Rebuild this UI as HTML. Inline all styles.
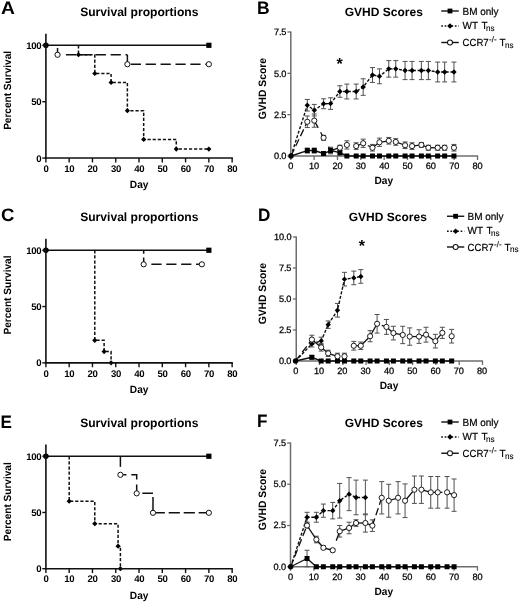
<!DOCTYPE html>
<html lang="en">
<head>
<meta charset="utf-8">
<title>Survival proportions and GVHD Scores</title>
<style>
html,body{margin:0;padding:0;background:#fff;}
body{width:520px;height:603px;overflow:hidden;font-family:"Liberation Sans",sans-serif;}
svg{display:block;}
svg text{font-family:"Liberation Sans",sans-serif;}
</style>
</head>
<body>
<svg role="img" aria-label="Survival proportions and GVHD scores, panels A to F" width="520" height="603" viewBox="0 0 520 603" text-rendering="geometricPrecision" font-family='"Liberation Sans", sans-serif'>
<rect width="520" height="603" fill="#fff"/>
<g>
<text transform="translate(0.9 14.3) scale(1.07 1)" font-size="18" font-weight="bold">A</text>
<text x="139.3" y="16.3" font-size="12.1" font-weight="bold" text-anchor="middle" fill="#000">Survival proportions</text>
<text transform="translate(10.7 90.4) rotate(-90) scale(0.965 1)" font-size="10.45" font-weight="bold" text-anchor="middle">Percent Survival</text>
<text transform="translate(139.2 187.8) scale(0.96 1)" font-size="10.6" font-weight="bold" text-anchor="middle">Day</text>
<line x1="45.9" y1="45.3" x2="208.86" y2="45.3" stroke="#111" stroke-width="1.6" stroke-linecap="butt"/>
<path d="M57.54 47.9V54.77" fill="none" stroke="#111" stroke-width="1.5" stroke-linejoin="miter"/>
<path d="M65.92 54.77H127.38" fill="none" stroke="#111" stroke-width="1.5" stroke-dasharray="10.2 4.7" stroke-linejoin="miter"/>
<path d="M127.38 54.77V64.24" fill="none" stroke="#111" stroke-width="1.5" stroke-linejoin="miter"/>
<path d="M130.78 64.24H208.86" fill="none" stroke="#111" stroke-width="1.5" stroke-dasharray="10.2 4.7" stroke-linejoin="miter"/>
<path d="M78.49 45.3V54.77H94.79V73.49H111.08V82.51H127.38V110.7H143.68V139.45H176.27V149.03H208.86" fill="none" stroke="#111" stroke-width="1.5" stroke-dasharray="3.2 1.9" stroke-linejoin="miter"/>
<path d="M78.49 52.17L81.09 54.77L78.49 57.37L75.89 54.77Z" fill="#000"/>
<path d="M94.79 70.89L97.39 73.49L94.79 76.09L92.19 73.49Z" fill="#000"/>
<path d="M111.08 79.91L113.68 82.51L111.08 85.11L108.48 82.51Z" fill="#000"/>
<path d="M127.38 108.1L129.98 110.7L127.38 113.3L124.78 110.7Z" fill="#000"/>
<path d="M143.68 136.85L146.28 139.45L143.68 142.05L141.08 139.45Z" fill="#000"/>
<path d="M176.27 146.43L178.87 149.03L176.27 151.63L173.67 149.03Z" fill="#000"/>
<path d="M208.86 146.43L211.46 149.03L208.86 151.63L206.26 149.03Z" fill="#000"/>
<circle cx="57.54" cy="54.77" r="2.6" fill="#fff" stroke="#111" stroke-width="1.0"/>
<circle cx="127.38" cy="64.24" r="2.6" fill="#fff" stroke="#111" stroke-width="1.0"/>
<circle cx="208.86" cy="64.24" r="2.6" fill="#fff" stroke="#111" stroke-width="1.0"/>
<circle cx="45.9" cy="45.3" r="2.8" fill="#000"/>
<rect x="206.26" y="42.7" width="5.2" height="5.2" fill="#000"/>
<line x1="45.9" y1="33.75" x2="45.9" y2="158.85" stroke="#111" stroke-width="1.6" stroke-linecap="butt"/>
<line x1="45.1" y1="158.05" x2="232.84" y2="158.05" stroke="#111" stroke-width="1.6" stroke-linecap="butt"/>
<line x1="42.3" y1="158.05" x2="45.9" y2="158.05" stroke="#111" stroke-width="1.4" stroke-linecap="butt"/>
<text x="41.2" y="161.5" font-size="9.6" font-weight="bold" text-anchor="end" fill="#000" letter-spacing="-0.35">0</text>
<line x1="42.3" y1="101.68" x2="45.9" y2="101.68" stroke="#111" stroke-width="1.4" stroke-linecap="butt"/>
<text x="41.2" y="105.13" font-size="9.6" font-weight="bold" text-anchor="end" fill="#000" letter-spacing="-0.35">50</text>
<line x1="42.3" y1="45.3" x2="45.9" y2="45.3" stroke="#111" stroke-width="1.4" stroke-linecap="butt"/>
<text x="41.2" y="48.75" font-size="9.6" font-weight="bold" text-anchor="end" fill="#000" letter-spacing="-0.35">100</text>
<line x1="45.9" y1="158.05" x2="45.9" y2="162.45" stroke="#111" stroke-width="1.4" stroke-linecap="butt"/>
<text x="46.05" y="171.75" font-size="9.6" font-weight="bold" text-anchor="middle" fill="#000" letter-spacing="-0.35">0</text>
<line x1="69.18" y1="158.05" x2="69.18" y2="162.45" stroke="#111" stroke-width="1.4" stroke-linecap="butt"/>
<text x="69.33" y="171.75" font-size="9.6" font-weight="bold" text-anchor="middle" fill="#000" letter-spacing="-0.35">10</text>
<line x1="92.46" y1="158.05" x2="92.46" y2="162.45" stroke="#111" stroke-width="1.4" stroke-linecap="butt"/>
<text x="92.61" y="171.75" font-size="9.6" font-weight="bold" text-anchor="middle" fill="#000" letter-spacing="-0.35">20</text>
<line x1="115.74" y1="158.05" x2="115.74" y2="162.45" stroke="#111" stroke-width="1.4" stroke-linecap="butt"/>
<text x="115.89" y="171.75" font-size="9.6" font-weight="bold" text-anchor="middle" fill="#000" letter-spacing="-0.35">30</text>
<line x1="139.02" y1="158.05" x2="139.02" y2="162.45" stroke="#111" stroke-width="1.4" stroke-linecap="butt"/>
<text x="139.17" y="171.75" font-size="9.6" font-weight="bold" text-anchor="middle" fill="#000" letter-spacing="-0.35">40</text>
<line x1="162.3" y1="158.05" x2="162.3" y2="162.45" stroke="#111" stroke-width="1.4" stroke-linecap="butt"/>
<text x="162.45" y="171.75" font-size="9.6" font-weight="bold" text-anchor="middle" fill="#000" letter-spacing="-0.35">50</text>
<line x1="185.58" y1="158.05" x2="185.58" y2="162.45" stroke="#111" stroke-width="1.4" stroke-linecap="butt"/>
<text x="185.73" y="171.75" font-size="9.6" font-weight="bold" text-anchor="middle" fill="#000" letter-spacing="-0.35">60</text>
<line x1="208.86" y1="158.05" x2="208.86" y2="162.45" stroke="#111" stroke-width="1.4" stroke-linecap="butt"/>
<text x="209.01" y="171.75" font-size="9.6" font-weight="bold" text-anchor="middle" fill="#000" letter-spacing="-0.35">70</text>
<line x1="232.14" y1="158.05" x2="232.14" y2="162.45" stroke="#111" stroke-width="1.4" stroke-linecap="butt"/>
<text x="232.29" y="171.75" font-size="9.6" font-weight="bold" text-anchor="middle" fill="#000" letter-spacing="-0.35">80</text>
</g>
<g>
<text transform="translate(0.9 220.6) scale(1.03 1)" font-size="18" font-weight="bold">C</text>
<text x="139.3" y="221.4" font-size="12.1" font-weight="bold" text-anchor="middle" fill="#000">Survival proportions</text>
<text transform="translate(10.7 295) rotate(-90) scale(0.965 1)" font-size="10.45" font-weight="bold" text-anchor="middle">Percent Survival</text>
<text transform="translate(139.2 393) scale(0.96 1)" font-size="10.6" font-weight="bold" text-anchor="middle">Day</text>
<line x1="45.9" y1="250.25" x2="208.86" y2="250.25" stroke="#111" stroke-width="1.6" stroke-linecap="butt"/>
<path d="M143.68 250.25v3.6M143.68 257.52V264.32" fill="none" stroke="#111" stroke-width="1.5" stroke-linejoin="miter"/>
<path d="M151.36 264.32H201.88" fill="none" stroke="#111" stroke-width="1.5" stroke-dasharray="10.2 4.7" stroke-linejoin="miter"/>
<path d="M94.79 250.25V340.33H104.1V351.59H111.08V362.85" fill="none" stroke="#111" stroke-width="1.5" stroke-dasharray="3.2 1.9" stroke-linejoin="miter"/>
<path d="M94.79 337.73L97.39 340.33L94.79 342.93L92.19 340.33Z" fill="#000"/>
<path d="M104.1 348.99L106.7 351.59L104.1 354.19L101.5 351.59Z" fill="#000"/>
<path d="M111.08 360.25L113.68 362.85L111.08 365.45L108.48 362.85Z" fill="#000"/>
<circle cx="143.68" cy="264.32" r="2.6" fill="#fff" stroke="#111" stroke-width="1.0"/>
<circle cx="201.88" cy="264.32" r="2.6" fill="#fff" stroke="#111" stroke-width="1.0"/>
<circle cx="45.9" cy="250.25" r="2.8" fill="#000"/>
<rect x="206.26" y="247.65" width="5.2" height="5.2" fill="#000"/>
<line x1="45.9" y1="238.75" x2="45.9" y2="363.65" stroke="#111" stroke-width="1.6" stroke-linecap="butt"/>
<line x1="45.1" y1="362.85" x2="232.84" y2="362.85" stroke="#111" stroke-width="1.6" stroke-linecap="butt"/>
<line x1="42.3" y1="362.85" x2="45.9" y2="362.85" stroke="#111" stroke-width="1.4" stroke-linecap="butt"/>
<text x="41.2" y="366.3" font-size="9.6" font-weight="bold" text-anchor="end" fill="#000" letter-spacing="-0.35">0</text>
<line x1="42.3" y1="306.55" x2="45.9" y2="306.55" stroke="#111" stroke-width="1.4" stroke-linecap="butt"/>
<text x="41.2" y="310" font-size="9.6" font-weight="bold" text-anchor="end" fill="#000" letter-spacing="-0.35">50</text>
<line x1="42.3" y1="250.25" x2="45.9" y2="250.25" stroke="#111" stroke-width="1.4" stroke-linecap="butt"/>
<text x="41.2" y="253.7" font-size="9.6" font-weight="bold" text-anchor="end" fill="#000" letter-spacing="-0.35">100</text>
<line x1="45.9" y1="362.85" x2="45.9" y2="367.25" stroke="#111" stroke-width="1.4" stroke-linecap="butt"/>
<text x="46.05" y="376.55" font-size="9.6" font-weight="bold" text-anchor="middle" fill="#000" letter-spacing="-0.35">0</text>
<line x1="69.18" y1="362.85" x2="69.18" y2="367.25" stroke="#111" stroke-width="1.4" stroke-linecap="butt"/>
<text x="69.33" y="376.55" font-size="9.6" font-weight="bold" text-anchor="middle" fill="#000" letter-spacing="-0.35">10</text>
<line x1="92.46" y1="362.85" x2="92.46" y2="367.25" stroke="#111" stroke-width="1.4" stroke-linecap="butt"/>
<text x="92.61" y="376.55" font-size="9.6" font-weight="bold" text-anchor="middle" fill="#000" letter-spacing="-0.35">20</text>
<line x1="115.74" y1="362.85" x2="115.74" y2="367.25" stroke="#111" stroke-width="1.4" stroke-linecap="butt"/>
<text x="115.89" y="376.55" font-size="9.6" font-weight="bold" text-anchor="middle" fill="#000" letter-spacing="-0.35">30</text>
<line x1="139.02" y1="362.85" x2="139.02" y2="367.25" stroke="#111" stroke-width="1.4" stroke-linecap="butt"/>
<text x="139.17" y="376.55" font-size="9.6" font-weight="bold" text-anchor="middle" fill="#000" letter-spacing="-0.35">40</text>
<line x1="162.3" y1="362.85" x2="162.3" y2="367.25" stroke="#111" stroke-width="1.4" stroke-linecap="butt"/>
<text x="162.45" y="376.55" font-size="9.6" font-weight="bold" text-anchor="middle" fill="#000" letter-spacing="-0.35">50</text>
<line x1="185.58" y1="362.85" x2="185.58" y2="367.25" stroke="#111" stroke-width="1.4" stroke-linecap="butt"/>
<text x="185.73" y="376.55" font-size="9.6" font-weight="bold" text-anchor="middle" fill="#000" letter-spacing="-0.35">60</text>
<line x1="208.86" y1="362.85" x2="208.86" y2="367.25" stroke="#111" stroke-width="1.4" stroke-linecap="butt"/>
<text x="209.01" y="376.55" font-size="9.6" font-weight="bold" text-anchor="middle" fill="#000" letter-spacing="-0.35">70</text>
<line x1="232.14" y1="362.85" x2="232.14" y2="367.25" stroke="#111" stroke-width="1.4" stroke-linecap="butt"/>
<text x="232.29" y="376.55" font-size="9.6" font-weight="bold" text-anchor="middle" fill="#000" letter-spacing="-0.35">80</text>
</g>
<g>
<text transform="translate(0.6 428) scale(0.95 1)" font-size="18" font-weight="bold">E</text>
<text x="139.3" y="427.1" font-size="12.1" font-weight="bold" text-anchor="middle" fill="#000">Survival proportions</text>
<text transform="translate(10.7 501.7) rotate(-90) scale(0.965 1)" font-size="10.45" font-weight="bold" text-anchor="middle">Percent Survival</text>
<text transform="translate(139.2 599) scale(0.96 1)" font-size="10.6" font-weight="bold" text-anchor="middle">Day</text>
<line x1="45.9" y1="456.25" x2="208.86" y2="456.25" stroke="#111" stroke-width="1.6" stroke-linecap="butt"/>
<path d="M120.4 456.25v10.6" fill="none" stroke="#111" stroke-width="1.5" stroke-linejoin="miter"/>
<path d="M123.2 474.8H126.4M131.29 474.8H136.69V479.6M136.69 484.56V493.36" fill="none" stroke="#111" stroke-width="1.5" stroke-linejoin="miter"/>
<path d="M142.29 493.36H152.99M152.99 496.96V512.81" fill="none" stroke="#111" stroke-width="1.5" stroke-linejoin="miter"/>
<path d="M155.99 512.81H208.86" fill="none" stroke="#111" stroke-width="1.5" stroke-dasharray="8.9 3.8 11.2 3.8 11.2 3.8 11.2" stroke-linejoin="miter"/>
<path d="M69.18 456.25V501.23H94.79V523.72H118.07V546.21H120.4V568.7" fill="none" stroke="#111" stroke-width="1.5" stroke-dasharray="3.2 1.9" stroke-linejoin="miter"/>
<path d="M69.18 498.63L71.78 501.23L69.18 503.83L66.58 501.23Z" fill="#000"/>
<path d="M94.79 521.12L97.39 523.72L94.79 526.32L92.19 523.72Z" fill="#000"/>
<path d="M118.07 543.61L120.67 546.21L118.07 548.81L115.47 546.21Z" fill="#000"/>
<path d="M120.4 566.1L123 568.7L120.4 571.3L117.8 568.7Z" fill="#000"/>
<circle cx="120.4" cy="474.8" r="2.6" fill="#fff" stroke="#111" stroke-width="1.0"/>
<circle cx="136.69" cy="493.36" r="2.6" fill="#fff" stroke="#111" stroke-width="1.0"/>
<circle cx="152.99" cy="512.81" r="2.6" fill="#fff" stroke="#111" stroke-width="1.0"/>
<circle cx="208.86" cy="512.81" r="2.6" fill="#fff" stroke="#111" stroke-width="1.0"/>
<circle cx="45.9" cy="456.25" r="2.8" fill="#000"/>
<rect x="206.26" y="453.65" width="5.2" height="5.2" fill="#000"/>
<line x1="45.9" y1="444.5" x2="45.9" y2="569.5" stroke="#111" stroke-width="1.6" stroke-linecap="butt"/>
<line x1="45.1" y1="568.7" x2="232.84" y2="568.7" stroke="#111" stroke-width="1.6" stroke-linecap="butt"/>
<line x1="42.3" y1="568.7" x2="45.9" y2="568.7" stroke="#111" stroke-width="1.4" stroke-linecap="butt"/>
<text x="41.2" y="572.15" font-size="9.6" font-weight="bold" text-anchor="end" fill="#000" letter-spacing="-0.35">0</text>
<line x1="42.3" y1="512.48" x2="45.9" y2="512.48" stroke="#111" stroke-width="1.4" stroke-linecap="butt"/>
<text x="41.2" y="515.93" font-size="9.6" font-weight="bold" text-anchor="end" fill="#000" letter-spacing="-0.35">50</text>
<line x1="42.3" y1="456.25" x2="45.9" y2="456.25" stroke="#111" stroke-width="1.4" stroke-linecap="butt"/>
<text x="41.2" y="459.7" font-size="9.6" font-weight="bold" text-anchor="end" fill="#000" letter-spacing="-0.35">100</text>
<line x1="45.9" y1="568.7" x2="45.9" y2="573.1" stroke="#111" stroke-width="1.4" stroke-linecap="butt"/>
<text x="46.05" y="582.4" font-size="9.6" font-weight="bold" text-anchor="middle" fill="#000" letter-spacing="-0.35">0</text>
<line x1="69.18" y1="568.7" x2="69.18" y2="573.1" stroke="#111" stroke-width="1.4" stroke-linecap="butt"/>
<text x="69.33" y="582.4" font-size="9.6" font-weight="bold" text-anchor="middle" fill="#000" letter-spacing="-0.35">10</text>
<line x1="92.46" y1="568.7" x2="92.46" y2="573.1" stroke="#111" stroke-width="1.4" stroke-linecap="butt"/>
<text x="92.61" y="582.4" font-size="9.6" font-weight="bold" text-anchor="middle" fill="#000" letter-spacing="-0.35">20</text>
<line x1="115.74" y1="568.7" x2="115.74" y2="573.1" stroke="#111" stroke-width="1.4" stroke-linecap="butt"/>
<text x="115.89" y="582.4" font-size="9.6" font-weight="bold" text-anchor="middle" fill="#000" letter-spacing="-0.35">30</text>
<line x1="139.02" y1="568.7" x2="139.02" y2="573.1" stroke="#111" stroke-width="1.4" stroke-linecap="butt"/>
<text x="139.17" y="582.4" font-size="9.6" font-weight="bold" text-anchor="middle" fill="#000" letter-spacing="-0.35">40</text>
<line x1="162.3" y1="568.7" x2="162.3" y2="573.1" stroke="#111" stroke-width="1.4" stroke-linecap="butt"/>
<text x="162.45" y="582.4" font-size="9.6" font-weight="bold" text-anchor="middle" fill="#000" letter-spacing="-0.35">50</text>
<line x1="185.58" y1="568.7" x2="185.58" y2="573.1" stroke="#111" stroke-width="1.4" stroke-linecap="butt"/>
<text x="185.73" y="582.4" font-size="9.6" font-weight="bold" text-anchor="middle" fill="#000" letter-spacing="-0.35">60</text>
<line x1="208.86" y1="568.7" x2="208.86" y2="573.1" stroke="#111" stroke-width="1.4" stroke-linecap="butt"/>
<text x="209.01" y="582.4" font-size="9.6" font-weight="bold" text-anchor="middle" fill="#000" letter-spacing="-0.35">70</text>
<line x1="232.14" y1="568.7" x2="232.14" y2="573.1" stroke="#111" stroke-width="1.4" stroke-linecap="butt"/>
<text x="232.29" y="582.4" font-size="9.6" font-weight="bold" text-anchor="middle" fill="#000" letter-spacing="-0.35">80</text>
</g>
<g>
<text transform="translate(257.1 14.3) scale(0.97 1)" font-size="18" font-weight="bold">B</text>
<text x="383.8" y="16" font-size="12" font-weight="bold" text-anchor="middle" fill="#000">GVHD Scores</text>
<text transform="translate(265.5 88.7) rotate(-90) scale(0.965 1)" font-size="10.7" font-weight="bold" text-anchor="middle">GVHD Score</text>
<text transform="translate(383.8 183.9) scale(0.96 1)" font-size="10.6" font-weight="bold" text-anchor="middle">Day</text>
<line x1="441.25" y1="11" x2="458.75" y2="11" stroke="#111" stroke-width="1.4" stroke-linecap="butt"/>
<rect x="447.6" y="8.6" width="4.8" height="4.8" fill="#000"/>
<line x1="441.25" y1="26" x2="458.75" y2="26" stroke="#111" stroke-width="1.5" stroke-dasharray="1.7 1.7" stroke-linecap="butt"/>
<path d="M450 23.2L452.8 26L450 28.8L447.2 26Z" fill="#000"/>
<line x1="441.25" y1="42.5" x2="458.75" y2="42.5" stroke="#111" stroke-width="1.4" stroke-linecap="butt"/>
<circle cx="450" cy="42.5" r="2.5" fill="#fff" stroke="#111" stroke-width="1.05"/>
<g transform="translate(462.5 0) scale(0.97 1)">
<text x="0" y="14.5" font-size="10.3" fill="#000" stroke="#000" stroke-width="0.2">BM only</text>
<text y="28.9" font-size="10.3" fill="#000" stroke="#000" stroke-width="0.2"><tspan x="0">WT</tspan> <tspan x="19.69">T</tspan><tspan x="24.33" dy="1.9" font-size="8.4" stroke-width="0.1">ns</tspan></text>
<text y="46" font-size="10.3" fill="#000" stroke="#000" stroke-width="0.2"><tspan x="0" textLength="27.01" lengthAdjust="spacingAndGlyphs">CCR7</tspan><tspan x="27.32" dy="-3.8" font-size="8.4" stroke-width="0.1">-/-</tspan> <tspan x="38.25" dy="3.8">T</tspan><tspan x="43.81" dy="1.9" font-size="8.4" stroke-width="0.1">ns</tspan></text>
</g>
<text x="339.6" y="69" font-size="16" font-weight="bold" text-anchor="middle" fill="#000">*</text>
<line x1="290.8" y1="31.4" x2="290.8" y2="156.7" stroke="#6c6c6c" stroke-width="1.5" stroke-linecap="butt"/>
<line x1="290.1" y1="156" x2="478.12" y2="156" stroke="#6c6c6c" stroke-width="1.5" stroke-linecap="butt"/>
<line x1="287.4" y1="156" x2="290.8" y2="156" stroke="#6c6c6c" stroke-width="1.3" stroke-linecap="butt"/>
<text x="286.4" y="159.3" font-size="9.2" font-weight="normal" text-anchor="end" fill="#000" letter-spacing="-0.1" stroke="#000" stroke-width="0.25">0.0</text>
<line x1="287.4" y1="114.67" x2="290.8" y2="114.67" stroke="#6c6c6c" stroke-width="1.3" stroke-linecap="butt"/>
<text x="286.4" y="117.97" font-size="9.2" font-weight="normal" text-anchor="end" fill="#000" letter-spacing="-0.1" stroke="#000" stroke-width="0.25">2.5</text>
<line x1="287.4" y1="73.33" x2="290.8" y2="73.33" stroke="#6c6c6c" stroke-width="1.3" stroke-linecap="butt"/>
<text x="286.4" y="76.63" font-size="9.2" font-weight="normal" text-anchor="end" fill="#000" letter-spacing="-0.1" stroke="#000" stroke-width="0.25">5.0</text>
<line x1="287.4" y1="32" x2="290.8" y2="32" stroke="#6c6c6c" stroke-width="1.3" stroke-linecap="butt"/>
<text x="286.4" y="35.3" font-size="9.2" font-weight="normal" text-anchor="end" fill="#000" letter-spacing="-0.1" stroke="#000" stroke-width="0.25">7.5</text>
<line x1="290.8" y1="156" x2="290.8" y2="160" stroke="#6c6c6c" stroke-width="1.3" stroke-linecap="butt"/>
<text x="290.8" y="169.4" font-size="9.2" font-weight="normal" text-anchor="middle" fill="#000" letter-spacing="-0.1" stroke="#000" stroke-width="0.25">0</text>
<line x1="314.14" y1="156" x2="314.14" y2="160" stroke="#6c6c6c" stroke-width="1.3" stroke-linecap="butt"/>
<text x="314.14" y="169.4" font-size="9.2" font-weight="normal" text-anchor="middle" fill="#000" letter-spacing="-0.1" stroke="#000" stroke-width="0.25">10</text>
<line x1="337.48" y1="156" x2="337.48" y2="160" stroke="#6c6c6c" stroke-width="1.3" stroke-linecap="butt"/>
<text x="337.48" y="169.4" font-size="9.2" font-weight="normal" text-anchor="middle" fill="#000" letter-spacing="-0.1" stroke="#000" stroke-width="0.25">20</text>
<line x1="360.82" y1="156" x2="360.82" y2="160" stroke="#6c6c6c" stroke-width="1.3" stroke-linecap="butt"/>
<text x="360.82" y="169.4" font-size="9.2" font-weight="normal" text-anchor="middle" fill="#000" letter-spacing="-0.1" stroke="#000" stroke-width="0.25">30</text>
<line x1="384.16" y1="156" x2="384.16" y2="160" stroke="#6c6c6c" stroke-width="1.3" stroke-linecap="butt"/>
<text x="384.16" y="169.4" font-size="9.2" font-weight="normal" text-anchor="middle" fill="#000" letter-spacing="-0.1" stroke="#000" stroke-width="0.25">40</text>
<line x1="407.5" y1="156" x2="407.5" y2="160" stroke="#6c6c6c" stroke-width="1.3" stroke-linecap="butt"/>
<text x="407.5" y="169.4" font-size="9.2" font-weight="normal" text-anchor="middle" fill="#000" letter-spacing="-0.1" stroke="#000" stroke-width="0.25">50</text>
<line x1="430.84" y1="156" x2="430.84" y2="160" stroke="#6c6c6c" stroke-width="1.3" stroke-linecap="butt"/>
<text x="430.84" y="169.4" font-size="9.2" font-weight="normal" text-anchor="middle" fill="#000" letter-spacing="-0.1" stroke="#000" stroke-width="0.25">60</text>
<line x1="454.18" y1="156" x2="454.18" y2="160" stroke="#6c6c6c" stroke-width="1.3" stroke-linecap="butt"/>
<text x="454.18" y="169.4" font-size="9.2" font-weight="normal" text-anchor="middle" fill="#000" letter-spacing="-0.1" stroke="#000" stroke-width="0.25">70</text>
<line x1="477.52" y1="156" x2="477.52" y2="160" stroke="#6c6c6c" stroke-width="1.3" stroke-linecap="butt"/>
<text x="477.52" y="169.4" font-size="9.2" font-weight="normal" text-anchor="middle" fill="#000" letter-spacing="-0.1" stroke="#000" stroke-width="0.25">80</text>
<path d="M307.3 148.06V153.02M304.8 148.06H309.8M304.8 153.02H309.8" fill="none" stroke="#505050" stroke-width="1.0"/>
<path d="M314.28 148.06V153.02M311.78 148.06H316.78M311.78 153.02H316.78" fill="none" stroke="#505050" stroke-width="1.0"/>
<path d="M323.59 151.87V155.17M321.09 151.87H326.09M321.09 155.17H326.09" fill="none" stroke="#505050" stroke-width="1.0"/>
<path d="M330.58 147.24V153.85M328.08 147.24H333.08M328.08 153.85H333.08" fill="none" stroke="#505050" stroke-width="1.0"/>
<path d="M339.89 150.21V155.17M337.39 150.21H342.39M337.39 155.17H342.39" fill="none" stroke="#505050" stroke-width="1.0"/>
<path d="M307.3 99.46V111.03M304.8 99.46H309.8M304.8 111.03H309.8" fill="none" stroke="#505050" stroke-width="1.0"/>
<path d="M314.28 104.42V115.99M311.78 104.42H316.78M311.78 115.99H316.78" fill="none" stroke="#505050" stroke-width="1.0"/>
<path d="M323.59 98.79V108.71M321.09 98.79H326.09M321.09 108.71H326.09" fill="none" stroke="#505050" stroke-width="1.0"/>
<path d="M330.58 97.8V109.38M328.08 97.8H333.08M328.08 109.38H333.08" fill="none" stroke="#505050" stroke-width="1.0"/>
<path d="M339.89 85.73V97.31M337.39 85.73H342.39M337.39 97.31H342.39" fill="none" stroke="#505050" stroke-width="1.0"/>
<path d="M346.87 84.08V98.96M344.37 84.08H349.37M344.37 98.96H349.37" fill="none" stroke="#505050" stroke-width="1.0"/>
<path d="M356.18 84.08V98.96M353.68 84.08H358.68M353.68 98.96H358.68" fill="none" stroke="#505050" stroke-width="1.0"/>
<path d="M363.17 78.79V95.32M360.67 78.79H365.67M360.67 95.32H365.67" fill="none" stroke="#505050" stroke-width="1.0"/>
<path d="M372.48 67.55V82.43M369.98 67.55H374.98M369.98 82.43H374.98" fill="none" stroke="#505050" stroke-width="1.0"/>
<path d="M379.46 68.87V83.75M376.96 68.87H381.96M376.96 83.75H381.96" fill="none" stroke="#505050" stroke-width="1.0"/>
<path d="M388.78 60.6V77.14M386.28 60.6H391.28M386.28 77.14H391.28" fill="none" stroke="#505050" stroke-width="1.0"/>
<path d="M395.76 60.6V77.14M393.26 60.6H398.26M393.26 77.14H398.26" fill="none" stroke="#505050" stroke-width="1.0"/>
<path d="M405.07 61.43V79.62M402.57 61.43H407.57M402.57 79.62H407.57" fill="none" stroke="#505050" stroke-width="1.0"/>
<path d="M412.06 61.43V79.62M409.56 61.43H414.56M409.56 79.62H414.56" fill="none" stroke="#505050" stroke-width="1.0"/>
<path d="M421.37 61.43V79.62M418.87 61.43H423.87M418.87 79.62H423.87" fill="none" stroke="#505050" stroke-width="1.0"/>
<path d="M428.35 61.43V79.62M425.85 61.43H430.85M425.85 79.62H430.85" fill="none" stroke="#505050" stroke-width="1.0"/>
<path d="M437.66 62.09V81.93M435.16 62.09H440.16M435.16 81.93H440.16" fill="none" stroke="#505050" stroke-width="1.0"/>
<path d="M444.65 62.09V81.93M442.15 62.09H447.15M442.15 81.93H447.15" fill="none" stroke="#505050" stroke-width="1.0"/>
<path d="M453.96 62.09V81.93M451.46 62.09H456.46M451.46 81.93H456.46" fill="none" stroke="#505050" stroke-width="1.0"/>
<path d="M307.3 115.99V127.56M304.8 115.99H309.8M304.8 127.56H309.8" fill="none" stroke="#505050" stroke-width="1.0"/>
<path d="M314.28 114.01V127.23M311.78 114.01H316.78M311.78 127.23H316.78" fill="none" stroke="#505050" stroke-width="1.0"/>
<path d="M323.59 135.33V140.29M321.09 135.33H326.09M321.09 140.29H326.09" fill="none" stroke="#505050" stroke-width="1.0"/>
<path d="M330.58 148.06V153.02M328.08 148.06H333.08M328.08 153.02H333.08" fill="none" stroke="#505050" stroke-width="1.0"/>
<path d="M339.89 145.25V150.21M337.39 145.25H342.39M337.39 150.21H342.39" fill="none" stroke="#505050" stroke-width="1.0"/>
<path d="M346.87 140.79V149.06M344.37 140.79H349.37M344.37 149.06H349.37" fill="none" stroke="#505050" stroke-width="1.0"/>
<path d="M356.18 142.77V149.39M353.68 142.77H358.68M353.68 149.39H358.68" fill="none" stroke="#505050" stroke-width="1.0"/>
<path d="M363.17 139.14V147.4M360.67 139.14H365.67M360.67 147.4H365.67" fill="none" stroke="#505050" stroke-width="1.0"/>
<path d="M372.48 144.43V151.04M369.98 144.43H374.98M369.98 151.04H374.98" fill="none" stroke="#505050" stroke-width="1.0"/>
<path d="M379.46 138.14V146.41M376.96 138.14H381.96M376.96 146.41H381.96" fill="none" stroke="#505050" stroke-width="1.0"/>
<path d="M388.78 137.48V144.1M386.28 137.48H391.28M386.28 144.1H391.28" fill="none" stroke="#505050" stroke-width="1.0"/>
<path d="M395.76 138.64V145.25M393.26 138.64H398.26M393.26 145.25H398.26" fill="none" stroke="#505050" stroke-width="1.0"/>
<path d="M405.07 141.95V148.56M402.57 141.95H407.57M402.57 148.56H407.57" fill="none" stroke="#505050" stroke-width="1.0"/>
<path d="M412.06 142.77V149.39M409.56 142.77H414.56M409.56 149.39H414.56" fill="none" stroke="#505050" stroke-width="1.0"/>
<path d="M421.37 142.44V147.4M418.87 142.44H423.87M418.87 147.4H423.87" fill="none" stroke="#505050" stroke-width="1.0"/>
<path d="M428.35 145.25V150.21M425.85 145.25H430.85M425.85 150.21H430.85" fill="none" stroke="#505050" stroke-width="1.0"/>
<path d="M437.66 145.25V150.21M435.16 145.25H440.16M435.16 150.21H440.16" fill="none" stroke="#505050" stroke-width="1.0"/>
<path d="M444.65 145.25V150.21M442.15 145.25H447.15M442.15 150.21H447.15" fill="none" stroke="#505050" stroke-width="1.0"/>
<path d="M453.96 144.43V151.04M451.46 144.43H456.46M451.46 151.04H456.46" fill="none" stroke="#505050" stroke-width="1.0"/>
<path d="M291 156L307.3 150.54L314.28 150.54L323.59 153.52L330.58 150.54L339.89 152.69L346.87 156L356.18 156L363.17 156L372.48 156L379.46 156L388.78 156L395.76 156L405.07 156L412.06 156L421.37 156L428.35 156L437.66 156L444.65 156L453.96 156" fill="none" stroke="#111" stroke-width="1.4" stroke-linejoin="round"/>
<path d="M291 156L307.3 105.24L314.28 110.2L323.59 103.75L330.58 103.59L339.89 91.52L346.87 91.52L356.18 91.52L363.17 87.06L372.48 74.99L379.46 76.31L388.78 68.87L395.76 68.87L405.07 70.52L412.06 70.52L421.37 70.52L428.35 70.52L437.66 72.01L444.65 72.01L453.96 72.01" fill="none" stroke="#111" stroke-width="1.4" stroke-dasharray="3 1.7" stroke-linejoin="round"/>
<line x1="291" y1="156" x2="307.3" y2="121.78" stroke="#111" stroke-width="1.3" stroke-dasharray="7.5 3.5" stroke-linecap="butt"/>
<line x1="314.28" y1="120.62" x2="318.19" y2="127.84" stroke="#111" stroke-width="1.3" stroke-linecap="butt"/>
<line x1="320.61" y1="132.31" x2="323.59" y2="137.81" stroke="#111" stroke-width="1.3" stroke-linecap="butt"/>
<line x1="328.48" y1="146.72" x2="330.58" y2="150.54" stroke="#111" stroke-width="1.3" stroke-linecap="butt"/>
<line x1="330.58" y1="150.54" x2="339.89" y2="147.73" stroke="#111" stroke-width="1.3" stroke-linecap="butt"/>
<line x1="356.18" y1="146.08" x2="363.17" y2="143.27" stroke="#111" stroke-width="1.3" stroke-linecap="butt"/>
<line x1="367.82" y1="145.5" x2="372.48" y2="147.73" stroke="#111" stroke-width="1.3" stroke-linecap="butt"/>
<line x1="372.48" y1="147.73" x2="379.46" y2="142.28" stroke="#111" stroke-width="1.3" stroke-linecap="butt"/>
<line x1="379.46" y1="142.28" x2="388.78" y2="140.79" stroke="#111" stroke-width="1.3" stroke-linecap="butt"/>
<line x1="395.76" y1="141.95" x2="405.07" y2="145.25" stroke="#111" stroke-width="1.3" stroke-linecap="butt"/>
<line x1="412.06" y1="146.08" x2="421.37" y2="144.92" stroke="#111" stroke-width="1.3" stroke-linecap="butt"/>
<line x1="421.37" y1="144.92" x2="428.35" y2="147.73" stroke="#111" stroke-width="1.3" stroke-linecap="butt"/>
<line x1="428.35" y1="147.73" x2="437.66" y2="147.73" stroke="#111" stroke-width="1.3" stroke-linecap="butt"/>
<line x1="437.66" y1="147.73" x2="444.65" y2="147.73" stroke="#111" stroke-width="1.3" stroke-linecap="butt"/>
<rect x="304.8" y="148.04" width="5" height="5" fill="#000"/>
<rect x="311.78" y="148.04" width="5" height="5" fill="#000"/>
<rect x="321.09" y="151.02" width="5" height="5" fill="#000"/>
<rect x="328.08" y="148.04" width="5" height="5" fill="#000"/>
<rect x="337.39" y="150.19" width="5" height="5" fill="#000"/>
<rect x="344.37" y="153.5" width="5" height="5" fill="#000"/>
<rect x="353.68" y="153.5" width="5" height="5" fill="#000"/>
<rect x="360.67" y="153.5" width="5" height="5" fill="#000"/>
<rect x="369.98" y="153.5" width="5" height="5" fill="#000"/>
<rect x="376.96" y="153.5" width="5" height="5" fill="#000"/>
<rect x="386.28" y="153.5" width="5" height="5" fill="#000"/>
<rect x="393.26" y="153.5" width="5" height="5" fill="#000"/>
<rect x="402.57" y="153.5" width="5" height="5" fill="#000"/>
<rect x="409.56" y="153.5" width="5" height="5" fill="#000"/>
<rect x="418.87" y="153.5" width="5" height="5" fill="#000"/>
<rect x="425.85" y="153.5" width="5" height="5" fill="#000"/>
<rect x="435.16" y="153.5" width="5" height="5" fill="#000"/>
<rect x="442.15" y="153.5" width="5" height="5" fill="#000"/>
<rect x="451.46" y="153.5" width="5" height="5" fill="#000"/>
<path d="M307.3 102.54L310 105.24L307.3 107.94L304.6 105.24Z" fill="#000"/>
<path d="M314.28 107.5L316.98 110.2L314.28 112.9L311.58 110.2Z" fill="#000"/>
<path d="M323.59 101.05L326.29 103.75L323.59 106.45L320.89 103.75Z" fill="#000"/>
<path d="M330.58 100.89L333.28 103.59L330.58 106.29L327.88 103.59Z" fill="#000"/>
<path d="M339.89 88.82L342.59 91.52L339.89 94.22L337.19 91.52Z" fill="#000"/>
<path d="M346.87 88.82L349.57 91.52L346.87 94.22L344.17 91.52Z" fill="#000"/>
<path d="M356.18 88.82L358.88 91.52L356.18 94.22L353.48 91.52Z" fill="#000"/>
<path d="M363.17 84.36L365.87 87.06L363.17 89.76L360.47 87.06Z" fill="#000"/>
<path d="M372.48 72.29L375.18 74.99L372.48 77.69L369.78 74.99Z" fill="#000"/>
<path d="M379.46 73.61L382.16 76.31L379.46 79.01L376.76 76.31Z" fill="#000"/>
<path d="M388.78 66.17L391.48 68.87L388.78 71.57L386.08 68.87Z" fill="#000"/>
<path d="M395.76 66.17L398.46 68.87L395.76 71.57L393.06 68.87Z" fill="#000"/>
<path d="M405.07 67.82L407.77 70.52L405.07 73.22L402.37 70.52Z" fill="#000"/>
<path d="M412.06 67.82L414.76 70.52L412.06 73.22L409.36 70.52Z" fill="#000"/>
<path d="M421.37 67.82L424.07 70.52L421.37 73.22L418.67 70.52Z" fill="#000"/>
<path d="M428.35 67.82L431.05 70.52L428.35 73.22L425.65 70.52Z" fill="#000"/>
<path d="M437.66 69.31L440.36 72.01L437.66 74.71L434.96 72.01Z" fill="#000"/>
<path d="M444.65 69.31L447.35 72.01L444.65 74.71L441.95 72.01Z" fill="#000"/>
<path d="M453.96 69.31L456.66 72.01L453.96 74.71L451.26 72.01Z" fill="#000"/>
<circle cx="307.3" cy="121.78" r="2.6" fill="#fff" stroke="#111" stroke-width="0.95"/>
<circle cx="314.28" cy="120.62" r="2.6" fill="#fff" stroke="#111" stroke-width="0.95"/>
<circle cx="323.59" cy="137.81" r="2.6" fill="#fff" stroke="#111" stroke-width="0.95"/>
<circle cx="339.89" cy="147.73" r="2.6" fill="#fff" stroke="#111" stroke-width="0.95"/>
<circle cx="346.87" cy="144.92" r="2.6" fill="#fff" stroke="#111" stroke-width="0.95"/>
<circle cx="356.18" cy="146.08" r="2.6" fill="#fff" stroke="#111" stroke-width="0.95"/>
<circle cx="363.17" cy="143.27" r="2.6" fill="#fff" stroke="#111" stroke-width="0.95"/>
<circle cx="372.48" cy="147.73" r="2.6" fill="#fff" stroke="#111" stroke-width="0.95"/>
<circle cx="379.46" cy="142.28" r="2.6" fill="#fff" stroke="#111" stroke-width="0.95"/>
<circle cx="388.78" cy="140.79" r="2.6" fill="#fff" stroke="#111" stroke-width="0.95"/>
<circle cx="395.76" cy="141.95" r="2.6" fill="#fff" stroke="#111" stroke-width="0.95"/>
<circle cx="405.07" cy="145.25" r="2.6" fill="#fff" stroke="#111" stroke-width="0.95"/>
<circle cx="412.06" cy="146.08" r="2.6" fill="#fff" stroke="#111" stroke-width="0.95"/>
<circle cx="421.37" cy="144.92" r="2.6" fill="#fff" stroke="#111" stroke-width="0.95"/>
<circle cx="428.35" cy="147.73" r="2.6" fill="#fff" stroke="#111" stroke-width="0.95"/>
<circle cx="437.66" cy="147.73" r="2.6" fill="#fff" stroke="#111" stroke-width="0.95"/>
<circle cx="444.65" cy="147.73" r="2.6" fill="#fff" stroke="#111" stroke-width="0.95"/>
<circle cx="453.96" cy="147.73" r="2.6" fill="#fff" stroke="#111" stroke-width="0.95"/>
<circle cx="291" cy="156" r="2.7" fill="#000"/>
</g>
<g>
<text transform="translate(257.9 221.2) scale(0.95 1)" font-size="18" font-weight="bold">D</text>
<text x="387.8" y="221.2" font-size="12" font-weight="bold" text-anchor="middle" fill="#000">GVHD Scores</text>
<text transform="translate(265.5 293.7) rotate(-90) scale(0.965 1)" font-size="10.7" font-weight="bold" text-anchor="middle">GVHD Score</text>
<text transform="translate(389 389.1) scale(0.96 1)" font-size="10.6" font-weight="bold" text-anchor="middle">Day</text>
<line x1="447" y1="216.25" x2="464.25" y2="216.25" stroke="#111" stroke-width="1.4" stroke-linecap="butt"/>
<rect x="453.23" y="213.85" width="4.8" height="4.8" fill="#000"/>
<line x1="447" y1="231.25" x2="464.25" y2="231.25" stroke="#111" stroke-width="1.5" stroke-dasharray="1.7 1.7" stroke-linecap="butt"/>
<path d="M455.62 228.45L458.43 231.25L455.62 234.05L452.82 231.25Z" fill="#000"/>
<line x1="447" y1="247" x2="464.25" y2="247" stroke="#111" stroke-width="1.4" stroke-linecap="butt"/>
<circle cx="455.62" cy="247" r="2.5" fill="#fff" stroke="#111" stroke-width="1.05"/>
<g transform="translate(467.5 0) scale(0.97 1)">
<text x="0" y="219.75" font-size="10.3" fill="#000" stroke="#000" stroke-width="0.2">BM only</text>
<text y="234.15" font-size="10.3" fill="#000" stroke="#000" stroke-width="0.2"><tspan x="0">WT</tspan> <tspan x="19.69">T</tspan><tspan x="24.33" dy="1.9" font-size="8.4" stroke-width="0.1">ns</tspan></text>
<text y="250.5" font-size="10.3" fill="#000" stroke="#000" stroke-width="0.2"><tspan x="0" textLength="27.01" lengthAdjust="spacingAndGlyphs">CCR7</tspan><tspan x="27.32" dy="-3.8" font-size="8.4" stroke-width="0.1">-/-</tspan> <tspan x="38.25" dy="3.8">T</tspan><tspan x="43.81" dy="1.9" font-size="8.4" stroke-width="0.1">ns</tspan></text>
</g>
<text x="361.8" y="250.6" font-size="16" font-weight="bold" text-anchor="middle" fill="#000">*</text>
<line x1="296.25" y1="236.4" x2="296.25" y2="361.7" stroke="#6c6c6c" stroke-width="1.5" stroke-linecap="butt"/>
<line x1="295.55" y1="361" x2="483.09" y2="361" stroke="#6c6c6c" stroke-width="1.5" stroke-linecap="butt"/>
<line x1="292.85" y1="361" x2="296.25" y2="361" stroke="#6c6c6c" stroke-width="1.3" stroke-linecap="butt"/>
<text x="291.4" y="364.3" font-size="9.2" font-weight="normal" text-anchor="end" fill="#000" letter-spacing="-0.1" stroke="#000" stroke-width="0.25">0.0</text>
<line x1="292.85" y1="330" x2="296.25" y2="330" stroke="#6c6c6c" stroke-width="1.3" stroke-linecap="butt"/>
<text x="291.4" y="333.3" font-size="9.2" font-weight="normal" text-anchor="end" fill="#000" letter-spacing="-0.1" stroke="#000" stroke-width="0.25">2.5</text>
<line x1="292.85" y1="299" x2="296.25" y2="299" stroke="#6c6c6c" stroke-width="1.3" stroke-linecap="butt"/>
<text x="291.4" y="302.3" font-size="9.2" font-weight="normal" text-anchor="end" fill="#000" letter-spacing="-0.1" stroke="#000" stroke-width="0.25">5.0</text>
<line x1="292.85" y1="268" x2="296.25" y2="268" stroke="#6c6c6c" stroke-width="1.3" stroke-linecap="butt"/>
<text x="291.4" y="271.3" font-size="9.2" font-weight="normal" text-anchor="end" fill="#000" letter-spacing="-0.1" stroke="#000" stroke-width="0.25">7.5</text>
<line x1="292.85" y1="237" x2="296.25" y2="237" stroke="#6c6c6c" stroke-width="1.3" stroke-linecap="butt"/>
<text x="291.4" y="240.3" font-size="9.2" font-weight="normal" text-anchor="end" fill="#000" letter-spacing="-0.1" stroke="#000" stroke-width="0.25">10.0</text>
<line x1="296.25" y1="361" x2="296.25" y2="365" stroke="#6c6c6c" stroke-width="1.3" stroke-linecap="butt"/>
<text x="295.8" y="374.4" font-size="9.2" font-weight="normal" text-anchor="middle" fill="#000" letter-spacing="-0.1" stroke="#000" stroke-width="0.25">0</text>
<line x1="319.53" y1="361" x2="319.53" y2="365" stroke="#6c6c6c" stroke-width="1.3" stroke-linecap="butt"/>
<text x="319.08" y="374.4" font-size="9.2" font-weight="normal" text-anchor="middle" fill="#000" letter-spacing="-0.1" stroke="#000" stroke-width="0.25">10</text>
<line x1="342.81" y1="361" x2="342.81" y2="365" stroke="#6c6c6c" stroke-width="1.3" stroke-linecap="butt"/>
<text x="342.36" y="374.4" font-size="9.2" font-weight="normal" text-anchor="middle" fill="#000" letter-spacing="-0.1" stroke="#000" stroke-width="0.25">20</text>
<line x1="366.09" y1="361" x2="366.09" y2="365" stroke="#6c6c6c" stroke-width="1.3" stroke-linecap="butt"/>
<text x="365.64" y="374.4" font-size="9.2" font-weight="normal" text-anchor="middle" fill="#000" letter-spacing="-0.1" stroke="#000" stroke-width="0.25">30</text>
<line x1="389.37" y1="361" x2="389.37" y2="365" stroke="#6c6c6c" stroke-width="1.3" stroke-linecap="butt"/>
<text x="388.92" y="374.4" font-size="9.2" font-weight="normal" text-anchor="middle" fill="#000" letter-spacing="-0.1" stroke="#000" stroke-width="0.25">40</text>
<line x1="412.65" y1="361" x2="412.65" y2="365" stroke="#6c6c6c" stroke-width="1.3" stroke-linecap="butt"/>
<text x="412.2" y="374.4" font-size="9.2" font-weight="normal" text-anchor="middle" fill="#000" letter-spacing="-0.1" stroke="#000" stroke-width="0.25">50</text>
<line x1="435.93" y1="361" x2="435.93" y2="365" stroke="#6c6c6c" stroke-width="1.3" stroke-linecap="butt"/>
<text x="435.48" y="374.4" font-size="9.2" font-weight="normal" text-anchor="middle" fill="#000" letter-spacing="-0.1" stroke="#000" stroke-width="0.25">60</text>
<line x1="459.21" y1="361" x2="459.21" y2="365" stroke="#6c6c6c" stroke-width="1.3" stroke-linecap="butt"/>
<text x="458.76" y="374.4" font-size="9.2" font-weight="normal" text-anchor="middle" fill="#000" letter-spacing="-0.1" stroke="#000" stroke-width="0.25">70</text>
<line x1="482.49" y1="361" x2="482.49" y2="365" stroke="#6c6c6c" stroke-width="1.3" stroke-linecap="butt"/>
<text x="482.04" y="374.4" font-size="9.2" font-weight="normal" text-anchor="middle" fill="#000" letter-spacing="-0.1" stroke="#000" stroke-width="0.25">80</text>
<path d="M311.86 355.42V359.14M309.36 355.42H314.36M309.36 359.14H314.36" fill="none" stroke="#505050" stroke-width="1.0"/>
<path d="M311.86 340.79V346.99M309.36 340.79H314.36M309.36 346.99H314.36" fill="none" stroke="#505050" stroke-width="1.0"/>
<path d="M321.18 337.19V344.63M318.68 337.19H323.68M318.68 344.63H323.68" fill="none" stroke="#505050" stroke-width="1.0"/>
<path d="M328.17 320.95V328.39M325.67 320.95H330.67M325.67 328.39H330.67" fill="none" stroke="#505050" stroke-width="1.0"/>
<path d="M337.49 303.46V317.1M334.99 303.46H339.99M334.99 317.1H339.99" fill="none" stroke="#505050" stroke-width="1.0"/>
<path d="M344.48 272.34V285.98M341.98 272.34H346.98M341.98 285.98H346.98" fill="none" stroke="#505050" stroke-width="1.0"/>
<path d="M353.8 271.1V284.74M351.3 271.1H356.3M351.3 284.74H356.3" fill="none" stroke="#505050" stroke-width="1.0"/>
<path d="M360.79 269.61V283.25M358.29 269.61H363.29M358.29 283.25H363.29" fill="none" stroke="#505050" stroke-width="1.0"/>
<path d="M311.86 335.21V343.89M309.36 335.21H314.36M309.36 343.89H314.36" fill="none" stroke="#505050" stroke-width="1.0"/>
<path d="M321.18 343.64V351.08M318.68 343.64H323.68M318.68 351.08H323.68" fill="none" stroke="#505050" stroke-width="1.0"/>
<path d="M328.17 350.21V356.41M325.67 350.21H330.67M325.67 356.41H330.67" fill="none" stroke="#505050" stroke-width="1.0"/>
<path d="M337.49 353.19V359.39M334.99 353.19H339.99M334.99 359.39H339.99" fill="none" stroke="#505050" stroke-width="1.0"/>
<path d="M344.48 353.19V359.39M341.98 353.19H346.98M341.98 359.39H346.98" fill="none" stroke="#505050" stroke-width="1.0"/>
<path d="M353.8 341.41V350.09M351.3 341.41H356.3M351.3 350.09H356.3" fill="none" stroke="#505050" stroke-width="1.0"/>
<path d="M360.79 342.03V349.47M358.29 342.03H363.29M358.29 349.47H363.29" fill="none" stroke="#505050" stroke-width="1.0"/>
<path d="M370.11 330.62V341.78M367.61 330.62H372.61M367.61 341.78H372.61" fill="none" stroke="#505050" stroke-width="1.0"/>
<path d="M377.1 314.5V333.1M374.6 314.5H379.6M374.6 333.1H379.6" fill="none" stroke="#505050" stroke-width="1.0"/>
<path d="M386.42 319.46V334.34M383.92 319.46H388.92M383.92 334.34H388.92" fill="none" stroke="#505050" stroke-width="1.0"/>
<path d="M393.41 326.28V339.92M390.91 326.28H395.91M390.91 339.92H395.91" fill="none" stroke="#505050" stroke-width="1.0"/>
<path d="M402.73 326.28V343.64M400.23 326.28H405.23M400.23 343.64H405.23" fill="none" stroke="#505050" stroke-width="1.0"/>
<path d="M409.72 327.89V345.25M407.22 327.89H412.22M407.22 345.25H412.22" fill="none" stroke="#505050" stroke-width="1.0"/>
<path d="M419.04 329.75V343.39M416.54 329.75H421.54M416.54 343.39H421.54" fill="none" stroke="#505050" stroke-width="1.0"/>
<path d="M426.03 327.27V342.15M423.53 327.27H428.53M423.53 342.15H428.53" fill="none" stroke="#505050" stroke-width="1.0"/>
<path d="M435.35 334.34V347.98M432.85 334.34H437.85M432.85 347.98H437.85" fill="none" stroke="#505050" stroke-width="1.0"/>
<path d="M442.34 327.27V338.43M439.84 327.27H444.84M439.84 338.43H444.84" fill="none" stroke="#505050" stroke-width="1.0"/>
<path d="M451.66 329.38V343.02M449.16 329.38H454.16M449.16 343.02H454.16" fill="none" stroke="#505050" stroke-width="1.0"/>
<path d="M295.55 361L311.86 357.28L321.18 361L328.17 361L337.49 361L344.48 361L353.8 361L360.79 361L370.11 361L377.1 361L386.42 361L393.41 361L402.73 361L409.72 361L419.04 361L426.03 361L435.35 361L442.34 361L451.66 361" fill="none" stroke="#111" stroke-width="1.4" stroke-linejoin="round"/>
<path d="M295.55 361L311.86 343.89L321.18 340.91L328.17 324.67L337.49 310.28L344.48 279.16L353.8 277.92L360.79 276.43" fill="none" stroke="#111" stroke-width="1.4" stroke-dasharray="3 1.7" stroke-linejoin="round"/>
<line x1="295.55" y1="361" x2="311.86" y2="339.55" stroke="#111" stroke-width="1.3" stroke-dasharray="7.5 3.5" stroke-linecap="butt"/>
<line x1="311.86" y1="339.55" x2="321.18" y2="347.36" stroke="#111" stroke-width="1.3" stroke-linecap="butt"/>
<line x1="321.18" y1="347.36" x2="328.17" y2="353.31" stroke="#111" stroke-width="1.3" stroke-linecap="butt"/>
<line x1="328.17" y1="353.31" x2="337.49" y2="356.29" stroke="#111" stroke-width="1.3" stroke-linecap="butt"/>
<line x1="353.8" y1="345.75" x2="360.79" y2="345.75" stroke="#111" stroke-width="1.3" stroke-linecap="butt"/>
<line x1="360.79" y1="345.75" x2="370.11" y2="336.2" stroke="#111" stroke-width="1.3" stroke-linecap="butt"/>
<line x1="370.11" y1="336.2" x2="377.1" y2="323.8" stroke="#111" stroke-width="1.3" stroke-linecap="butt"/>
<line x1="381.76" y1="325.35" x2="386.42" y2="326.9" stroke="#111" stroke-width="1.3" stroke-linecap="butt"/>
<line x1="386.42" y1="326.9" x2="393.41" y2="333.1" stroke="#111" stroke-width="1.3" stroke-linecap="butt"/>
<line x1="393.41" y1="333.1" x2="402.73" y2="334.96" stroke="#111" stroke-width="1.3" stroke-linecap="butt"/>
<line x1="409.72" y1="336.57" x2="419.04" y2="336.57" stroke="#111" stroke-width="1.3" stroke-linecap="butt"/>
<line x1="419.04" y1="336.57" x2="426.03" y2="334.71" stroke="#111" stroke-width="1.3" stroke-linecap="butt"/>
<line x1="426.03" y1="334.71" x2="435.35" y2="341.16" stroke="#111" stroke-width="1.3" stroke-linecap="butt"/>
<line x1="435.35" y1="341.16" x2="442.34" y2="332.85" stroke="#111" stroke-width="1.3" stroke-linecap="butt"/>
<rect x="309.36" y="354.78" width="5" height="5" fill="#000"/>
<rect x="318.68" y="358.5" width="5" height="5" fill="#000"/>
<rect x="325.67" y="358.5" width="5" height="5" fill="#000"/>
<rect x="334.99" y="358.5" width="5" height="5" fill="#000"/>
<rect x="341.98" y="358.5" width="5" height="5" fill="#000"/>
<rect x="351.3" y="358.5" width="5" height="5" fill="#000"/>
<rect x="358.29" y="358.5" width="5" height="5" fill="#000"/>
<rect x="367.61" y="358.5" width="5" height="5" fill="#000"/>
<rect x="374.6" y="358.5" width="5" height="5" fill="#000"/>
<rect x="383.92" y="358.5" width="5" height="5" fill="#000"/>
<rect x="390.91" y="358.5" width="5" height="5" fill="#000"/>
<rect x="400.23" y="358.5" width="5" height="5" fill="#000"/>
<rect x="407.22" y="358.5" width="5" height="5" fill="#000"/>
<rect x="416.54" y="358.5" width="5" height="5" fill="#000"/>
<rect x="423.53" y="358.5" width="5" height="5" fill="#000"/>
<rect x="432.85" y="358.5" width="5" height="5" fill="#000"/>
<rect x="439.84" y="358.5" width="5" height="5" fill="#000"/>
<rect x="449.16" y="358.5" width="5" height="5" fill="#000"/>
<path d="M311.86 341.19L314.56 343.89L311.86 346.59L309.16 343.89Z" fill="#000"/>
<path d="M321.18 338.21L323.88 340.91L321.18 343.61L318.48 340.91Z" fill="#000"/>
<path d="M328.17 321.97L330.87 324.67L328.17 327.37L325.47 324.67Z" fill="#000"/>
<path d="M337.49 307.58L340.19 310.28L337.49 312.98L334.79 310.28Z" fill="#000"/>
<path d="M344.48 276.46L347.18 279.16L344.48 281.86L341.78 279.16Z" fill="#000"/>
<path d="M353.8 275.22L356.5 277.92L353.8 280.62L351.1 277.92Z" fill="#000"/>
<path d="M360.79 273.73L363.49 276.43L360.79 279.13L358.09 276.43Z" fill="#000"/>
<circle cx="311.86" cy="339.55" r="2.6" fill="#fff" stroke="#111" stroke-width="0.95"/>
<circle cx="321.18" cy="347.36" r="2.6" fill="#fff" stroke="#111" stroke-width="0.95"/>
<circle cx="328.17" cy="353.31" r="2.6" fill="#fff" stroke="#111" stroke-width="0.95"/>
<circle cx="337.49" cy="356.29" r="2.6" fill="#fff" stroke="#111" stroke-width="0.95"/>
<circle cx="344.48" cy="356.29" r="2.6" fill="#fff" stroke="#111" stroke-width="0.95"/>
<circle cx="353.8" cy="345.75" r="2.6" fill="#fff" stroke="#111" stroke-width="0.95"/>
<circle cx="360.79" cy="345.75" r="2.6" fill="#fff" stroke="#111" stroke-width="0.95"/>
<circle cx="370.11" cy="336.2" r="2.6" fill="#fff" stroke="#111" stroke-width="0.95"/>
<circle cx="377.1" cy="323.8" r="2.6" fill="#fff" stroke="#111" stroke-width="0.95"/>
<circle cx="386.42" cy="326.9" r="2.6" fill="#fff" stroke="#111" stroke-width="0.95"/>
<circle cx="393.41" cy="333.1" r="2.6" fill="#fff" stroke="#111" stroke-width="0.95"/>
<circle cx="402.73" cy="334.96" r="2.6" fill="#fff" stroke="#111" stroke-width="0.95"/>
<circle cx="409.72" cy="336.57" r="2.6" fill="#fff" stroke="#111" stroke-width="0.95"/>
<circle cx="419.04" cy="336.57" r="2.6" fill="#fff" stroke="#111" stroke-width="0.95"/>
<circle cx="426.03" cy="334.71" r="2.6" fill="#fff" stroke="#111" stroke-width="0.95"/>
<circle cx="435.35" cy="341.16" r="2.6" fill="#fff" stroke="#111" stroke-width="0.95"/>
<circle cx="442.34" cy="332.85" r="2.6" fill="#fff" stroke="#111" stroke-width="0.95"/>
<circle cx="451.66" cy="336.2" r="2.6" fill="#fff" stroke="#111" stroke-width="0.95"/>
<circle cx="295.55" cy="361" r="2.7" fill="#000"/>
</g>
<g>
<text transform="translate(257.1 427.1) scale(0.95 1)" font-size="18" font-weight="bold">F</text>
<text x="383.8" y="426.5" font-size="12" font-weight="bold" text-anchor="middle" fill="#000">GVHD Scores</text>
<text transform="translate(265.5 499.7) rotate(-90) scale(0.965 1)" font-size="10.7" font-weight="bold" text-anchor="middle">GVHD Score</text>
<text transform="translate(383.8 595.1) scale(0.96 1)" font-size="10.6" font-weight="bold" text-anchor="middle">Day</text>
<line x1="441.25" y1="422" x2="458.75" y2="422" stroke="#111" stroke-width="1.4" stroke-linecap="butt"/>
<rect x="447.6" y="419.6" width="4.8" height="4.8" fill="#000"/>
<line x1="441.25" y1="436.9" x2="458.75" y2="436.9" stroke="#111" stroke-width="1.5" stroke-dasharray="1.7 1.7" stroke-linecap="butt"/>
<path d="M450 434.1L452.8 436.9L450 439.7L447.2 436.9Z" fill="#000"/>
<line x1="441.25" y1="453.25" x2="458.75" y2="453.25" stroke="#111" stroke-width="1.4" stroke-linecap="butt"/>
<circle cx="450" cy="453.25" r="2.5" fill="#fff" stroke="#111" stroke-width="1.05"/>
<g transform="translate(462.5 0) scale(0.97 1)">
<text x="0" y="425.5" font-size="10.3" fill="#000" stroke="#000" stroke-width="0.2">BM only</text>
<text y="439.8" font-size="10.3" fill="#000" stroke="#000" stroke-width="0.2"><tspan x="0">WT</tspan> <tspan x="19.69">T</tspan><tspan x="24.33" dy="1.9" font-size="8.4" stroke-width="0.1">ns</tspan></text>
<text y="456.75" font-size="10.3" fill="#000" stroke="#000" stroke-width="0.2"><tspan x="0" textLength="27.01" lengthAdjust="spacingAndGlyphs">CCR7</tspan><tspan x="27.32" dy="-3.8" font-size="8.4" stroke-width="0.1">-/-</tspan> <tspan x="38.25" dy="3.8">T</tspan><tspan x="43.81" dy="1.9" font-size="8.4" stroke-width="0.1">ns</tspan></text>
</g>
<line x1="290.5" y1="442.4" x2="290.5" y2="567.45" stroke="#6c6c6c" stroke-width="1.5" stroke-linecap="butt"/>
<line x1="289.8" y1="566.75" x2="478.06" y2="566.75" stroke="#6c6c6c" stroke-width="1.5" stroke-linecap="butt"/>
<line x1="287.1" y1="566.75" x2="290.5" y2="566.75" stroke="#6c6c6c" stroke-width="1.3" stroke-linecap="butt"/>
<text x="286.1" y="569.6" font-size="9.2" font-weight="normal" text-anchor="end" fill="#000" letter-spacing="-0.1" stroke="#000" stroke-width="0.25">0.0</text>
<line x1="287.1" y1="525.5" x2="290.5" y2="525.5" stroke="#6c6c6c" stroke-width="1.3" stroke-linecap="butt"/>
<text x="286.1" y="528.35" font-size="9.2" font-weight="normal" text-anchor="end" fill="#000" letter-spacing="-0.1" stroke="#000" stroke-width="0.25">2.5</text>
<line x1="287.1" y1="484.25" x2="290.5" y2="484.25" stroke="#6c6c6c" stroke-width="1.3" stroke-linecap="butt"/>
<text x="286.1" y="487.1" font-size="9.2" font-weight="normal" text-anchor="end" fill="#000" letter-spacing="-0.1" stroke="#000" stroke-width="0.25">5.0</text>
<line x1="287.1" y1="443" x2="290.5" y2="443" stroke="#6c6c6c" stroke-width="1.3" stroke-linecap="butt"/>
<text x="286.1" y="445.85" font-size="9.2" font-weight="normal" text-anchor="end" fill="#000" letter-spacing="-0.1" stroke="#000" stroke-width="0.25">7.5</text>
<line x1="290.5" y1="566.75" x2="290.5" y2="570.75" stroke="#6c6c6c" stroke-width="1.3" stroke-linecap="butt"/>
<text x="290.5" y="579.7" font-size="9.2" font-weight="normal" text-anchor="middle" fill="#000" letter-spacing="-0.1" stroke="#000" stroke-width="0.25">0</text>
<line x1="313.87" y1="566.75" x2="313.87" y2="570.75" stroke="#6c6c6c" stroke-width="1.3" stroke-linecap="butt"/>
<text x="313.87" y="579.7" font-size="9.2" font-weight="normal" text-anchor="middle" fill="#000" letter-spacing="-0.1" stroke="#000" stroke-width="0.25">10</text>
<line x1="337.24" y1="566.75" x2="337.24" y2="570.75" stroke="#6c6c6c" stroke-width="1.3" stroke-linecap="butt"/>
<text x="337.24" y="579.7" font-size="9.2" font-weight="normal" text-anchor="middle" fill="#000" letter-spacing="-0.1" stroke="#000" stroke-width="0.25">20</text>
<line x1="360.61" y1="566.75" x2="360.61" y2="570.75" stroke="#6c6c6c" stroke-width="1.3" stroke-linecap="butt"/>
<text x="360.61" y="579.7" font-size="9.2" font-weight="normal" text-anchor="middle" fill="#000" letter-spacing="-0.1" stroke="#000" stroke-width="0.25">30</text>
<line x1="383.98" y1="566.75" x2="383.98" y2="570.75" stroke="#6c6c6c" stroke-width="1.3" stroke-linecap="butt"/>
<text x="383.98" y="579.7" font-size="9.2" font-weight="normal" text-anchor="middle" fill="#000" letter-spacing="-0.1" stroke="#000" stroke-width="0.25">40</text>
<line x1="407.35" y1="566.75" x2="407.35" y2="570.75" stroke="#6c6c6c" stroke-width="1.3" stroke-linecap="butt"/>
<text x="407.35" y="579.7" font-size="9.2" font-weight="normal" text-anchor="middle" fill="#000" letter-spacing="-0.1" stroke="#000" stroke-width="0.25">50</text>
<line x1="430.72" y1="566.75" x2="430.72" y2="570.75" stroke="#6c6c6c" stroke-width="1.3" stroke-linecap="butt"/>
<text x="430.72" y="579.7" font-size="9.2" font-weight="normal" text-anchor="middle" fill="#000" letter-spacing="-0.1" stroke="#000" stroke-width="0.25">60</text>
<line x1="454.09" y1="566.75" x2="454.09" y2="570.75" stroke="#6c6c6c" stroke-width="1.3" stroke-linecap="butt"/>
<text x="454.09" y="579.7" font-size="9.2" font-weight="normal" text-anchor="middle" fill="#000" letter-spacing="-0.1" stroke="#000" stroke-width="0.25">70</text>
<line x1="477.46" y1="566.75" x2="477.46" y2="570.75" stroke="#6c6c6c" stroke-width="1.3" stroke-linecap="butt"/>
<text x="477.46" y="579.7" font-size="9.2" font-weight="normal" text-anchor="middle" fill="#000" letter-spacing="-0.1" stroke="#000" stroke-width="0.25">80</text>
<path d="M307.04 550.25V566.75M304.54 550.25H309.54M304.54 566.75H309.54" fill="none" stroke="#505050" stroke-width="1.0"/>
<path d="M307.04 512.3V522.2M304.54 512.3H309.54M304.54 522.2H309.54" fill="none" stroke="#505050" stroke-width="1.0"/>
<path d="M316.37 512.3V522.2M313.87 512.3H318.87M313.87 522.2H318.87" fill="none" stroke="#505050" stroke-width="1.0"/>
<path d="M323.38 504.05V517.25M320.88 504.05H325.88M320.88 517.25H325.88" fill="none" stroke="#505050" stroke-width="1.0"/>
<path d="M332.71 502.4V518.9M330.21 502.4H335.21M330.21 518.9H335.21" fill="none" stroke="#505050" stroke-width="1.0"/>
<path d="M339.71 483.43V518.08M337.21 483.43H342.21M337.21 518.08H342.21" fill="none" stroke="#505050" stroke-width="1.0"/>
<path d="M349.05 477.65V510.65M346.55 477.65H351.55M346.55 510.65H351.55" fill="none" stroke="#505050" stroke-width="1.0"/>
<path d="M356.05 480.12V514.77M353.55 480.12H358.55M353.55 514.77H358.55" fill="none" stroke="#505050" stroke-width="1.0"/>
<path d="M365.39 480.12V514.77M362.89 480.12H367.89M362.89 514.77H367.89" fill="none" stroke="#505050" stroke-width="1.0"/>
<path d="M307.04 523.02V527.98M304.54 523.02H309.54M304.54 527.98H309.54" fill="none" stroke="#505050" stroke-width="1.0"/>
<path d="M316.37 536.23V542.83M313.87 536.23H318.87M313.87 542.83H318.87" fill="none" stroke="#505050" stroke-width="1.0"/>
<path d="M323.38 546.12V549.42M320.88 546.12H325.88M320.88 549.42H325.88" fill="none" stroke="#505050" stroke-width="1.0"/>
<path d="M332.71 548.6V551.9M330.21 548.6H335.21M330.21 551.9H335.21" fill="none" stroke="#505050" stroke-width="1.0"/>
<path d="M339.71 525.5V537.05M337.21 525.5H342.21M337.21 537.05H342.21" fill="none" stroke="#505050" stroke-width="1.0"/>
<path d="M349.05 522.2V533.75M346.55 522.2H351.55M346.55 533.75H351.55" fill="none" stroke="#505050" stroke-width="1.0"/>
<path d="M356.05 519.73V526.33M353.55 519.73H358.55M353.55 526.33H358.55" fill="none" stroke="#505050" stroke-width="1.0"/>
<path d="M365.39 513.95V532.1M362.89 513.95H367.89M362.89 532.1H367.89" fill="none" stroke="#505050" stroke-width="1.0"/>
<path d="M372.39 519.89V531.44M369.89 519.89H374.89M369.89 531.44H374.89" fill="none" stroke="#505050" stroke-width="1.0"/>
<path d="M381.73 481.61V513.95M379.23 481.61H384.23M379.23 513.95H384.23" fill="none" stroke="#505050" stroke-width="1.0"/>
<path d="M388.73 484.25V517.25M386.23 484.25H391.23M386.23 517.25H391.23" fill="none" stroke="#505050" stroke-width="1.0"/>
<path d="M398.06 481.61V513.95M395.56 481.61H400.56M395.56 513.95H400.56" fill="none" stroke="#505050" stroke-width="1.0"/>
<path d="M405.07 483.92V517.58M402.57 483.92H407.57M402.57 517.58H407.57" fill="none" stroke="#505050" stroke-width="1.0"/>
<path d="M414.4 476V503.39M411.9 476H416.9M411.9 503.39H416.9" fill="none" stroke="#505050" stroke-width="1.0"/>
<path d="M421.4 476V503.39M418.9 476H423.9M418.9 503.39H423.9" fill="none" stroke="#505050" stroke-width="1.0"/>
<path d="M430.74 476.5V508.18M428.24 476.5H433.24M428.24 508.18H433.24" fill="none" stroke="#505050" stroke-width="1.0"/>
<path d="M437.74 476.5V508.18M435.24 476.5H440.24M435.24 508.18H440.24" fill="none" stroke="#505050" stroke-width="1.0"/>
<path d="M447.08 476.5V508.18M444.58 476.5H449.58M444.58 508.18H449.58" fill="none" stroke="#505050" stroke-width="1.0"/>
<path d="M454.08 478.97V511.31M451.58 478.97H456.58M451.58 511.31H456.58" fill="none" stroke="#505050" stroke-width="1.0"/>
<path d="M290.7 566.75L307.04 558.5L316.37 566.75L323.38 566.75L332.71 566.75L339.71 566.75L349.05 566.75L356.05 566.75L365.39 566.75L372.39 566.75L381.73 566.75L388.73 566.75L398.06 566.75L405.07 566.75L414.4 566.75L421.4 566.75L430.74 566.75L437.74 566.75L447.08 566.75L454.08 566.75" fill="none" stroke="#111" stroke-width="1.4" stroke-linejoin="round"/>
<path d="M290.7 566.75L307.04 517.25L316.37 517.25L323.38 510.65L332.71 510.65L339.71 500.75L349.05 494.15L356.05 497.45L365.39 497.45" fill="none" stroke="#111" stroke-width="1.4" stroke-dasharray="3 1.7" stroke-linejoin="round"/>
<line x1="290.7" y1="566.75" x2="307.04" y2="525.5" stroke="#111" stroke-width="1.3" stroke-dasharray="7.5 3.5" stroke-linecap="butt"/>
<line x1="307.04" y1="525.5" x2="316.37" y2="539.52" stroke="#111" stroke-width="1.3" stroke-linecap="butt"/>
<line x1="316.37" y1="539.52" x2="323.38" y2="547.77" stroke="#111" stroke-width="1.3" stroke-linecap="butt"/>
<line x1="323.38" y1="547.77" x2="332.71" y2="550.25" stroke="#111" stroke-width="1.3" stroke-linecap="butt"/>
<line x1="336.21" y1="540.76" x2="339.71" y2="531.27" stroke="#111" stroke-width="1.3" stroke-linecap="butt"/>
<line x1="339.71" y1="531.27" x2="349.05" y2="527.98" stroke="#111" stroke-width="1.3" stroke-linecap="butt"/>
<line x1="349.05" y1="527.98" x2="356.05" y2="523.02" stroke="#111" stroke-width="1.3" stroke-linecap="butt"/>
<line x1="356.05" y1="523.02" x2="365.39" y2="523.02" stroke="#111" stroke-width="1.3" stroke-linecap="butt"/>
<line x1="365.39" y1="523.02" x2="372.39" y2="525.66" stroke="#111" stroke-width="1.3" stroke-linecap="butt"/>
<line x1="372.39" y1="525.66" x2="381.73" y2="497.78" stroke="#111" stroke-width="1.3" stroke-dasharray="7.5 3.5" stroke-linecap="butt"/>
<line x1="388.73" y1="500.75" x2="398.06" y2="497.78" stroke="#111" stroke-width="1.3" stroke-linecap="butt"/>
<line x1="405.07" y1="500.75" x2="414.4" y2="489.69" stroke="#111" stroke-width="1.3" stroke-linecap="butt"/>
<line x1="421.4" y1="489.69" x2="430.74" y2="492.34" stroke="#111" stroke-width="1.3" stroke-linecap="butt"/>
<line x1="430.74" y1="492.34" x2="437.74" y2="492.34" stroke="#111" stroke-width="1.3" stroke-linecap="butt"/>
<line x1="437.74" y1="492.34" x2="442.41" y2="492.34" stroke="#111" stroke-width="1.3" stroke-linecap="butt"/>
<line x1="447.08" y1="492.34" x2="454.08" y2="495.14" stroke="#111" stroke-width="1.3" stroke-linecap="butt"/>
<rect x="304.54" y="556" width="5" height="5" fill="#000"/>
<rect x="313.87" y="564.25" width="5" height="5" fill="#000"/>
<rect x="320.88" y="564.25" width="5" height="5" fill="#000"/>
<rect x="330.21" y="564.25" width="5" height="5" fill="#000"/>
<rect x="337.21" y="564.25" width="5" height="5" fill="#000"/>
<rect x="346.55" y="564.25" width="5" height="5" fill="#000"/>
<rect x="353.55" y="564.25" width="5" height="5" fill="#000"/>
<rect x="362.89" y="564.25" width="5" height="5" fill="#000"/>
<rect x="369.89" y="564.25" width="5" height="5" fill="#000"/>
<rect x="379.23" y="564.25" width="5" height="5" fill="#000"/>
<rect x="386.23" y="564.25" width="5" height="5" fill="#000"/>
<rect x="395.56" y="564.25" width="5" height="5" fill="#000"/>
<rect x="402.57" y="564.25" width="5" height="5" fill="#000"/>
<rect x="411.9" y="564.25" width="5" height="5" fill="#000"/>
<rect x="418.9" y="564.25" width="5" height="5" fill="#000"/>
<rect x="428.24" y="564.25" width="5" height="5" fill="#000"/>
<rect x="435.24" y="564.25" width="5" height="5" fill="#000"/>
<rect x="444.58" y="564.25" width="5" height="5" fill="#000"/>
<rect x="451.58" y="564.25" width="5" height="5" fill="#000"/>
<path d="M307.04 514.55L309.74 517.25L307.04 519.95L304.34 517.25Z" fill="#000"/>
<path d="M316.37 514.55L319.07 517.25L316.37 519.95L313.67 517.25Z" fill="#000"/>
<path d="M323.38 507.95L326.08 510.65L323.38 513.35L320.68 510.65Z" fill="#000"/>
<path d="M332.71 507.95L335.41 510.65L332.71 513.35L330.01 510.65Z" fill="#000"/>
<path d="M339.71 498.05L342.41 500.75L339.71 503.45L337.01 500.75Z" fill="#000"/>
<path d="M349.05 491.45L351.75 494.15L349.05 496.85L346.35 494.15Z" fill="#000"/>
<path d="M356.05 494.75L358.75 497.45L356.05 500.15L353.35 497.45Z" fill="#000"/>
<path d="M365.39 494.75L368.09 497.45L365.39 500.15L362.69 497.45Z" fill="#000"/>
<circle cx="307.04" cy="525.5" r="2.6" fill="#fff" stroke="#111" stroke-width="0.95"/>
<circle cx="316.37" cy="539.52" r="2.6" fill="#fff" stroke="#111" stroke-width="0.95"/>
<circle cx="323.38" cy="547.77" r="2.6" fill="#fff" stroke="#111" stroke-width="0.95"/>
<circle cx="332.71" cy="550.25" r="2.6" fill="#fff" stroke="#111" stroke-width="0.95"/>
<circle cx="339.71" cy="531.27" r="2.6" fill="#fff" stroke="#111" stroke-width="0.95"/>
<circle cx="349.05" cy="527.98" r="2.6" fill="#fff" stroke="#111" stroke-width="0.95"/>
<circle cx="356.05" cy="523.02" r="2.6" fill="#fff" stroke="#111" stroke-width="0.95"/>
<circle cx="365.39" cy="523.02" r="2.6" fill="#fff" stroke="#111" stroke-width="0.95"/>
<circle cx="372.39" cy="525.66" r="2.6" fill="#fff" stroke="#111" stroke-width="0.95"/>
<circle cx="381.73" cy="497.78" r="2.6" fill="#fff" stroke="#111" stroke-width="0.95"/>
<circle cx="388.73" cy="500.75" r="2.6" fill="#fff" stroke="#111" stroke-width="0.95"/>
<circle cx="398.06" cy="497.78" r="2.6" fill="#fff" stroke="#111" stroke-width="0.95"/>
<circle cx="405.07" cy="500.75" r="2.6" fill="#fff" stroke="#111" stroke-width="0.95"/>
<circle cx="414.4" cy="489.69" r="2.6" fill="#fff" stroke="#111" stroke-width="0.95"/>
<circle cx="421.4" cy="489.69" r="2.6" fill="#fff" stroke="#111" stroke-width="0.95"/>
<circle cx="430.74" cy="492.34" r="2.6" fill="#fff" stroke="#111" stroke-width="0.95"/>
<circle cx="437.74" cy="492.34" r="2.6" fill="#fff" stroke="#111" stroke-width="0.95"/>
<circle cx="447.08" cy="492.34" r="2.6" fill="#fff" stroke="#111" stroke-width="0.95"/>
<circle cx="454.08" cy="495.14" r="2.6" fill="#fff" stroke="#111" stroke-width="0.95"/>
<circle cx="290.7" cy="566.75" r="2.7" fill="#000"/>
</g>
</svg>
</body>
</html>
